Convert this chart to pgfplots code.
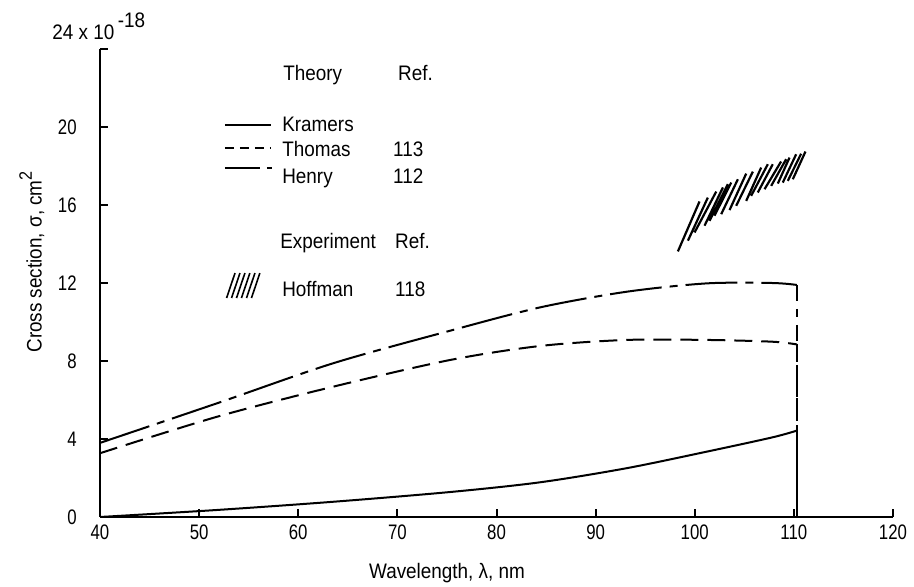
\documentclass[border=0pt]{standalone}
\usepackage{fontspec}
\setmainfont{Liberation Sans}[FakeStretch=0.9]
\newfontfamily\tickfont{Liberation Sans}[FakeStretch=0.8]
\usepackage{pgfplots}
\pgfplotsset{compat=1.18}
\begin{document}
\fontsize{10.5}{12}\selectfont
\begin{tikzpicture}
\useasboundingbox (-50pt,-35pt) rectangle (407pt,258.5pt);
\begin{axis}[
 at={(0,0)}, anchor=south west,
 scale only axis, width=396.5pt, height=234pt,
 xmin=40, xmax=120, ymin=0, ymax=24,
 axis x line=bottom, axis y line=left,
 axis line style={-, line width=1.3pt},
 xtick={40,50,...,120}, ytick={0,4,...,24},
 yticklabels={0,4,8,12,16,20,{}},
 tick align=inside, major tick length=4pt,
 tick style={line width=1pt, black},
 /pgf/number format/assume math mode=true,
 xticklabel style={font=\tickfont\fontsize{10.5}{12}\selectfont},
 yticklabel style={font=\tickfont\fontsize{10.5}{12}\selectfont, xshift=-8pt},
 xlabel={Wavelength, λ, nm},
 xlabel style={at={(axis description cs:0.4376,-0.12)}, anchor=center},
 ylabel={Cross section, σ, cm\raisebox{0.9ex}{\small 2}},
 ylabel style={at={(axis description cs:-0.086,0.545)}, anchor=center, rotate=0},
 unbounded coords=jump,
 clip=false,
]
% Kramers
\addplot[black, line width=1pt, smooth] coordinates {
 (40,0) (51.8,0.36) (63.5,0.78) (75.3,1.28) (84.4,1.78) (93.1,2.5) (101.2,3.35) (107.8,4.08) (110.3,4.43)};
\addplot[black, line width=1pt] coordinates {(110.3,4.43) (110.3,0)};
% Thomas
\addplot[black, line width=1pt, smooth, dash pattern=on 9pt off 4.5pt] coordinates {
 (40,3.27) (51.8,5.14) (63.5,6.68) (75.3,8.05) (84.4,8.77) (93.1,9.08) (101.2,9.08) (107.8,8.99) (110.3,8.85)};
\addplot[black, line width=1pt, dash pattern=on 9pt off 4.5pt] coordinates {(110.3,8.85) (110.3,0)};
% Henry
\addplot[black, line width=1pt, smooth, dash pattern=on 26pt off 4pt on 4pt off 4pt] coordinates {
 (40,3.8) (51.8,5.83) (63.5,7.88) (75.3,9.55) (84.4,10.75) (93.1,11.55) (101.2,11.98) (107.8,12.0) (110.3,11.9)};
\addplot[black, line width=1pt, dash pattern=on 8pt off 4pt on 4pt off 4pt] coordinates {(110.3,11.9) (110.3,0)};
% Hoffman experiment (hatched band)
\addplot[black, line width=1.1pt] coordinates {
 (98.30,13.62) (100.48,16.18) (0,nan)
 (99.31,14.17) (101.32,16.38) (0,nan)
 (99.98,14.59) (102.17,16.69) (0,nan)
 (100.99,14.94) (102.84,16.90) (0,nan)
 (101.49,15.19) (103.34,17.07) (0,nan)
 (101.99,15.45) (103.68,17.15) (0,nan)
 (102.67,15.53) (104.35,17.32) (0,nan)
 (103.51,15.74) (105.19,17.61) (0,nan)
 (104.18,15.96) (105.86,17.71) (0,nan)
 (105.19,16.21) (106.70,17.92) (0,nan)
 (105.69,16.47) (107.37,18.09) (0,nan)
 (106.36,16.64) (107.87,18.09) (0,nan)
 (107.04,16.81) (108.71,18.23) (0,nan)
 (107.71,16.98) (109.22,18.35) (0,nan)
 (108.38,17.10) (109.56,18.43) (0,nan)
 (108.88,17.15) (110.23,18.60) (0,nan)
 (109.39,17.24) (110.73,18.63) (0,nan)
 (109.89,17.32) (111.17,18.74)};
% legend
\begin{scope}[every node/.style={anchor=base west, inner sep=0pt}]
\node at (axis cs:58.45,22.37) {Theory};
\node at (axis cs:70.04,22.37) {Ref.};
\node at (axis cs:58.35,19.76) {Kramers};
\node at (axis cs:58.35,18.48) {Thomas};
\node at (axis cs:69.54,18.48) {113};
\node at (axis cs:58.35,17.11) {Henry};
\node at (axis cs:69.54,17.11) {112};
\node at (axis cs:58.15,13.78) {Experiment};
\node at (axis cs:69.74,13.78) {Ref.};
\node at (axis cs:58.35,11.30) {Hoffman};
\node at (axis cs:69.74,11.30) {118};
\end{scope}
\draw[line width=1pt] (axis cs:52.6,20.1) -- (axis cs:57.3,20.1);
\draw[line width=1pt, dash pattern=on 4.5pt off 3pt] (axis cs:52.6,18.93) -- (axis cs:57.3,18.93);
\draw[line width=1pt, dash pattern=on 17.5pt off 3.5pt on 2.5pt] (axis cs:52.6,17.9) -- (axis cs:57.4,17.9);
\draw[line width=0.8pt] (axis cs:52.77,11.23) -- (axis cs:53.62,12.51);
\draw[line width=0.8pt] (axis cs:53.27,11.23) -- (axis cs:54.12,12.51);
\draw[line width=0.8pt] (axis cs:53.77,11.23) -- (axis cs:54.62,12.51);
\draw[line width=0.8pt] (axis cs:54.27,11.23) -- (axis cs:55.12,12.51);
\draw[line width=0.8pt] (axis cs:54.78,11.23) -- (axis cs:55.63,12.51);
\draw[line width=0.8pt] (axis cs:55.28,11.23) -- (axis cs:56.13,12.51);
\end{axis}
\node[anchor=base west, inner sep=0pt] at (-24pt,238.5pt) {24 x 10\raisebox{6pt}{\,-18}};
\end{tikzpicture}
\end{document}
